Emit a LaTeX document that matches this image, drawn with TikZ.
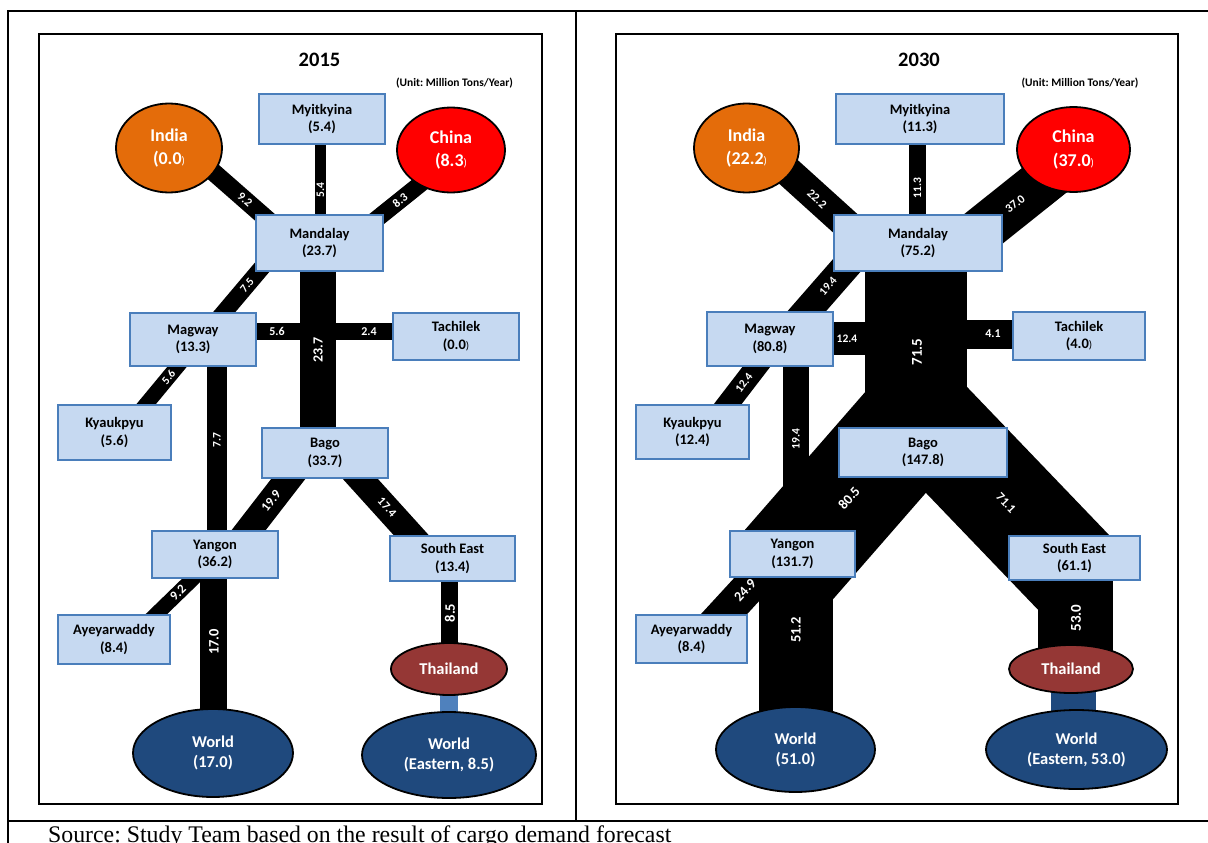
\documentclass[tikz,border=0pt]{standalone}
\usepackage{fontspec}
\setmainfont{Carlito}
\newfontfamily\sourcefont{Liberation Serif}
\usetikzlibrary{shapes.geometric,calc}
\pgfdeclarelayer{background}
\pgfsetlayers{background,main}
\frenchspacing

\definecolor{boxfill}{HTML}{C6D9F1}
\definecolor{boxedge}{HTML}{4A7EBB}
\definecolor{indiaorange}{HTML}{E46C0A}
\definecolor{chinared}{HTML}{FF0000}
\definecolor{thaired}{HTML}{953735}
\definecolor{worldblue}{HTML}{1F497D}
\definecolor{linkblue}{HTML}{4F81BD}

% thin closing bracket used after some values
\newcommand\thinclose{{\mdseries\fontsize{11}{11}\selectfont)}}

\tikzset{
  region/.style={rectangle, draw=boxedge, line width=1.8pt, fill=boxfill,
    inner sep=0pt, align=center, text=black,
    font=\bfseries\fontsize{14.5}{17.7}\selectfont},
  country/.style={ellipse, draw=black, line width=1.8pt, inner sep=0pt,
    align=center, text=white, font=\bfseries\fontsize{18}{23.4}\selectfont},
  outlet/.style={ellipse, draw=black, line width=1.8pt, fill=worldblue,
    inner sep=0pt, align=center, text=white,
    font=\bfseries\fontsize{16.5}{20}\selectfont},
  thaifont/.style={font=\bfseries\fontsize{16.5}{20}\selectfont},
  flow/.style={draw=black, line cap=butt},
  flowlabel/.style={text=white, inner sep=0pt,
    font=\bfseries\fontsize{#1}{#1}\selectfont},
  flowlabel/.default=12,
  frameline/.style={draw=black, line width=2pt},
  paneltitle/.style={inner sep=0pt, font=\bfseries\fontsize{20.5}{24}\selectfont},
  unitnote/.style={inner sep=0pt, font=\bfseries\fontsize{11.5}{13}\selectfont}
}

\begin{document}
\begin{tikzpicture}[x=1pt, y=-1pt]
\useasboundingbox (0,0) rectangle (1208,843);

% table frame
\draw[frameline] (8,843) -- (8,11) -- (1208,11);
\draw[frameline] (576,11) -- (576,821);
\draw[frameline] (8,821) -- (1208,821);
\draw[draw=black, line width=1.8pt] (39,34) rectangle (542,804);
\draw[draw=black, line width=1.8pt] (616,34) rectangle (1178,804);

% titles
\node[paneltitle] (L-title) at (319.5,60) {2015};
\node[paneltitle] (R-title) at (919,60) {2030};
\node[unitnote] (L-unit) at (454.5,83) {(Unit: Million Tons/Year)};
\node[unitnote] (R-unit) at (1080,83) {(Unit: Million Tons/Year)};

% ---------------- 2015 ----------------
\node[region, minimum width=126, minimum height=50] (L-myit) at (322,119) {Myitkyina\\(5.4)};
\node[country, fill=indiaorange, minimum width=106, minimum height=89] (L-india) at (169,148) {India\\(0.0\thinclose};
\node[country, fill=chinared, minimum width=108, minimum height=85] (L-china) at (451,150) {China\\(8.3\thinclose};
\node[region, minimum width=127, minimum height=56] (L-mand) at (319.5,243) {Mandalay\\(23.7)};
\node[region, minimum width=126, minimum height=53] (L-magw) at (193,339.5) {Magway\\(13.3)};
\node[region, minimum width=126, minimum height=47] (L-tach) at (456,336.5) {Tachilek\\(0.0\thinclose};
\node[region, minimum width=113, minimum height=55] (L-kyau) at (114.5,432.5) {Kyaukpyu\\(5.6)};
\node[region, minimum width=126, minimum height=50] (L-bago) at (325,453) {Bago\\(33.7)};
\node[region, minimum width=126, minimum height=47] (L-yang) at (215,554.5) {Yangon\\(36.2)};
\node[region, minimum width=125, minimum height=45] (L-seast) at (452.5,558.5) {South East\\(13.4)};
\node[region, minimum width=112, minimum height=49] (L-ayey) at (114,639.5) {Ayeyarwaddy\\(8.4)};
\node[country, thaifont, fill=thaired, minimum width=116, minimum height=52] (L-thai) at (449,669) {Thailand};
\node[outlet, minimum width=160, minimum height=88] (L-world) at (213,753) {World\\(17.0)};
\node[outlet, minimum width=174, minimum height=86] (L-worldE) at (449,755) {World\\(Eastern, 8.5)};
\coordinate (L-junc) at (318,331.5);

% ---------------- 2030 ----------------
\node[region, minimum width=168, minimum height=50] (R-myit) at (920,119) {Myitkyina\\(11.3)};
\node[country, fill=indiaorange, minimum width=105, minimum height=89] (R-india) at (746.5,148) {India\\(22.2\thinclose};
\node[country, fill=chinared, minimum width=113, minimum height=85] (R-china) at (1073.5,149.5) {China\\(37.0\thinclose};
\node[region, minimum width=168, minimum height=56] (R-mand) at (918,243) {Mandalay\\(75.2)};
\node[region, minimum width=126, minimum height=54] (R-magw) at (770,339) {Magway\\(80.8)};
\node[region, minimum width=132, minimum height=48] (R-tach) at (1079,336) {Tachilek\\(4.0\thinclose};
\node[region, minimum width=113, minimum height=54] (R-kyau) at (692.5,432) {Kyaukpyu\\(12.4)};
\node[region, minimum width=168, minimum height=49] (R-bago) at (923,452.5) {Bago\\(147.8)};
\node[region, minimum width=125, minimum height=46] (R-yang) at (792.5,554) {Yangon\\(131.7)};
\node[region, minimum width=131, minimum height=44] (R-seast) at (1074.5,558) {South East\\(61.1)};
\node[region, minimum width=111, minimum height=48] (R-ayey) at (691.5,639) {Ayeyarwaddy\\(8.4)};
\node[country, thaifont, fill=thaired, minimum width=124, minimum height=48] (R-thai) at (1071,669) {Thailand};
\node[outlet, minimum width=159, minimum height=85] (R-world) at (795.5,749.5) {World\\(51.0)};
\node[outlet, minimum width=181, minimum height=79] (R-worldE) at (1076.5,749.5) {World\\(Eastern, 53.0)};
\coordinate (R-junc) at (916,338.5);

% flow labels 2015
\node[flowlabel, rotate=-41.3] (t-l1) at (245,200) {9.2};
\node[flowlabel, rotate=38.7] (t-l2) at (400,200) {8.3};
\node[flowlabel=11.5, rotate=90] (t-l3) at (320.5,190) {5.4};
\node[flowlabel=11.5, rotate=49.8] (t-l4) at (247,285) {7.5};
\node[flowlabel=14, rotate=90] (t-l5) at (318,350) {23.7};
\node[flowlabel] (t-l6) at (277,331.5) {5.6};
\node[flowlabel] (t-l7) at (369,331.5) {2.4};
\node[flowlabel=11.5, rotate=50.3] (t-l8) at (168.5,377) {5.6};
\node[flowlabel=11.5, rotate=90] (t-l9) at (217,440) {7.7};
\node[flowlabel=13, rotate=52.3] (t-l10) at (271,501) {19.9};
\node[flowlabel, rotate=-47.9] (t-l11) at (387,507) {17.4};
\node[flowlabel=14.5, rotate=90] (t-l12) at (214,642) {17.0};
\node[flowlabel=13, rotate=44.2] (t-l13) at (178,593) {9.2};
\node[flowlabel=14.5, rotate=90] (t-l14) at (450,613) {8.5};

% flow labels 2030
\node[flowlabel, rotate=-42.1] (t-r1) at (817,199) {22.2};
\node[flowlabel, rotate=38.6] (t-r2) at (1015,204) {37.0};
\node[flowlabel=11.5, rotate=90] (t-r3) at (917.5,188) {11.3};
\node[flowlabel=11.5, rotate=48.8] (t-r4) at (828,286) {19.4};
\node[flowlabel=11.5] (t-r5) at (847,339) {12.4};
\node[flowlabel] (t-r6) at (993,334) {4.1};
\node[flowlabel=15, rotate=90] (t-r7) at (917,352) {71.5};
\node[flowlabel=11.5, rotate=52.4] (t-r8) at (744,383) {12.4};
\node[flowlabel=11.5, rotate=90] (t-r9) at (796,439) {19.4};
\node[flowlabel=14, rotate=48.9] (t-r10) at (849,498) {80.5};
\node[flowlabel=12.5, rotate=-46.2] (t-r11) at (1006,503) {71.1};
\node[flowlabel=14, rotate=47.4] (t-r12) at (745,590) {24.9};
\node[flowlabel=14.5, rotate=90] (t-r13) at (796,630) {51.2};
\node[flowlabel=15, rotate=90] (t-r14) at (1076,618) {53.0};

% source line
\node[anchor=base west, inner sep=0pt, font=\sourcefont\fontsize{23.8}{28}\selectfont] (source) at (48,842.5)
  {Source: Study Team based on the result of cargo demand forecast};

\begin{pgfonlayer}{background}
\fill[white] (0,0) rectangle (1208,843);

% flows 2015
\draw[flow, line width=18] ([shift={(16,-0.8)}]L-india.center) -- ([shift={(-29.5,-3.7)}]L-mand.center);
\draw[flow, line width=17] ([shift={(-11,18.2)}]L-china.center) -- ([shift={(30.5,-2.6)}]L-mand.center);
\draw[flow, line width=11] ([shift={(-1.5,0)}]L-myit.center) -- ([shift={(1,0)}]L-mand.center);
\draw[flow, line width=36] ([shift={(-1.5,0)}]L-mand.center) -- ([shift={(-7,0)}]L-bago.center);
\draw[flow, line width=17] ([shift={(0,-8)}]L-magw.center) -- (L-junc);
\draw[flow, line width=17] (L-junc) -- ([shift={(0,-5)}]L-tach.center);
\draw[flow, line width=17] ([shift={(16.1,-9.5)}]L-magw.center) -- ([shift={(-42.8,7)}]L-mand.center);
\draw[flow, line width=15] ([shift={(18.5,-12.5)}]L-kyau.center) -- ([shift={(-2,10.5)}]L-magw.center);
\draw[flow, line width=20] ([shift={(24,0)}]L-magw.center) -- ([shift={(2,0)}]L-yang.center);
\draw[flow, line width=27] ([shift={(-22.1,7)}]L-bago.center) -- ([shift={(18.3,-4.5)}]L-yang.center);
\draw[flow, line width=26] ([shift={(18.2,7)}]L-bago.center) -- ([shift={(-23.3,-3.5)}]L-seast.center);
\draw[flow, line width=27] ([shift={(-1.5,0)}]L-yang.center) -- ([shift={(0.5,0)}]L-world.center);
\draw[flow, line width=15] ([shift={(26,-9.5)}]L-ayey.center) -- ([shift={(-8,10.5)}]L-yang.center);
\draw[flow, line width=17] ([shift={(-3,0)}]L-seast.center) -- ([shift={(0.5,0)}]L-thai.center);
\draw[flow, draw=linkblue, line width=18] (L-thai.center) -- (L-worldE.center);

% flows 2030
\draw[flow, line width=30] ([shift={(18.5,2.7)}]R-india.center) -- ([shift={(-38,11.7)}]R-mand.center);
\draw[flow, line width=47] ([shift={(-13.5,18.2)}]R-china.center) -- ([shift={(42,4.5)}]R-mand.center);
\draw[flow, line width=17] ([shift={(-2.5,0)}]R-myit.center) -- ([shift={(-0.5,0)}]R-mand.center);
\draw[flow, line width=102] ([shift={(-2,0)}]R-mand.center) -- ([shift={(-7,-60.5)}]R-bago.center);
\draw[flow, line width=112] ([shift={(16.5,-60.5)}]R-bago.center) -- ([shift={(-15.7,24.5)}]R-yang.center);
\draw[flow, line width=103] ([shift={(-22.5,-60.5)}]R-bago.center) -- ([shift={(2.8,18.3)}]R-seast.center);
\draw[flow, line width=33] ([shift={(0,-0.5)}]R-magw.center) -- (R-junc);
\draw[flow, line width=29] ([shift={(0,-4)}]R-junc) -- ([shift={(0,-1.5)}]R-tach.center);
\draw[flow, line width=29] ([shift={(20.3,-9)}]R-magw.center) -- ([shift={(-62.1,12)}]R-mand.center);
\draw[flow, line width=22] ([shift={(23,-12)}]R-kyau.center) -- ([shift={(-0.7,11)}]R-magw.center);
\draw[flow, line width=26] ([shift={(26,0)}]R-magw.center) -- ([shift={(3.5,0)}]R-yang.center);
\draw[flow, line width=74] ([shift={(3.5,0)}]R-yang.center) -- ([shift={(0.5,0)}]R-world.center);
\draw[flow, line width=34] ([shift={(17.9,-9)}]R-ayey.center) -- ([shift={(-18.7,6)}]R-yang.center);
\draw[flow, line width=75] ([shift={(1,0)}]R-seast.center) -- ([shift={(4.5,0)}]R-thai.center);
\draw[flow, draw=worldblue, line width=45] ([shift={(2.5,0)}]R-thai.center) -- ([shift={(-3,0)}]R-worldE.center);
\end{pgfonlayer}
\end{tikzpicture}
\end{document}
